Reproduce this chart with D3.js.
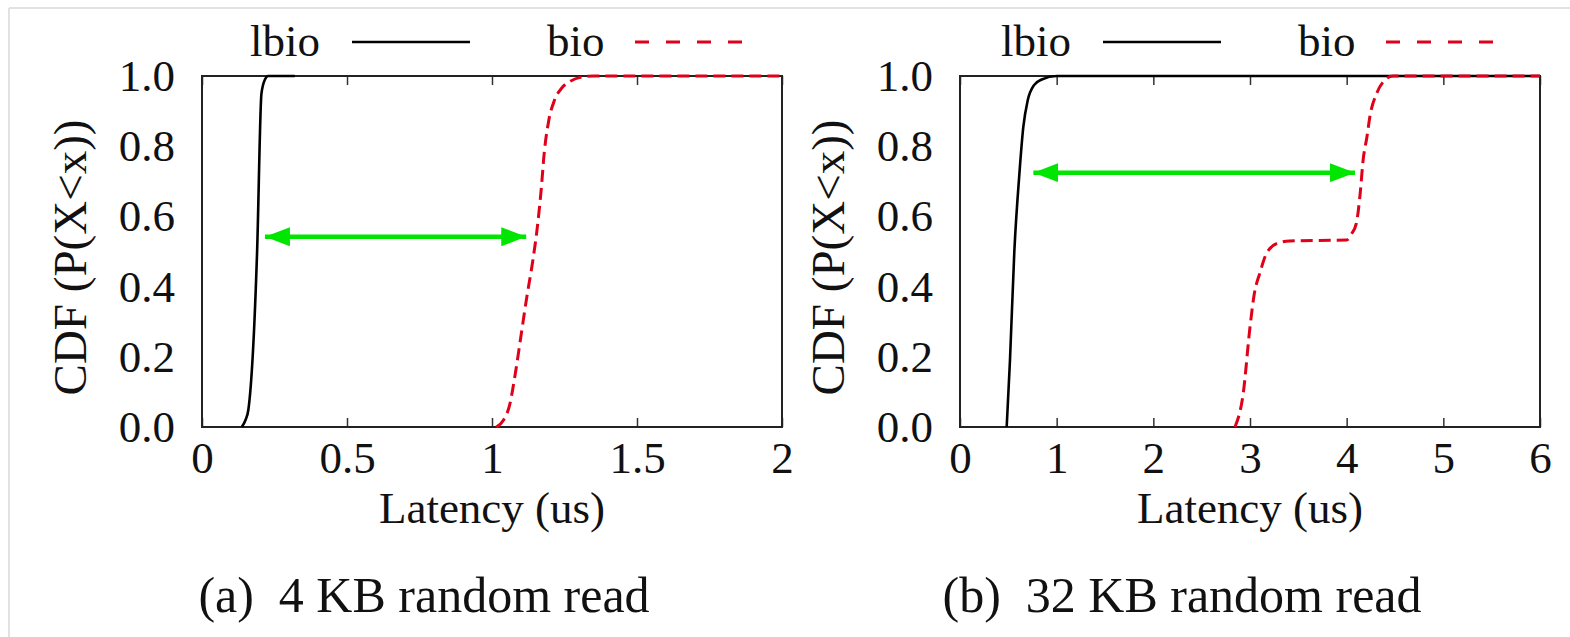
<!DOCTYPE html>
<html>
<head>
<meta charset="utf-8">
<script src="https://cdn.jsdelivr.net/npm/d3@7"></script>
<style>
  html, body { margin: 0; padding: 0; background: #fff; }
  svg { display: block; }
  text { font-family: "Liberation Serif", "Times New Roman", serif; fill: #111; white-space: pre; }
</style>
</head>
<body>
<svg id="fig" width="1570" height="637"></svg>
<script>
// ---- data: latency CDFs (x in microseconds, y = cumulative fraction) ----
const seriesNames = ["lbio", "bio"];

const lbio4K = [[0.137,0],[0.15,0.02],[0.16,0.05],[0.19,0.5],[0.205,0.95],[0.217,0.99],[0.228,1],[0.32,1]];
const bio4K  = [[1.015,0],[1.04,0.02],[1.06,0.06],[1.08,0.15],[1.10,0.26],[1.12,0.37],[1.14,0.47],
                [1.155,0.56],[1.17,0.68],[1.18,0.78],[1.195,0.87],[1.215,0.93],[1.24,0.965],
                [1.27,0.985],[1.31,0.997],[1.35,1],[2.0,1]];

const lbio32K = [[0.483,0],[0.517,0.19],[0.562,0.5],[0.614,0.72],[0.655,0.855],[0.70,0.93],
                 [0.766,0.974],[0.845,0.99],[1.0,1],[6.0,1]];
const bio32K  = [[2.845,0],[2.93,0.096],[3.0,0.285],[3.045,0.38],[3.10,0.437],[3.17,0.494],
                 [3.28,0.523],[3.41,0.53],[4.0,0.533],[4.05,0.55],[4.10,0.58],[4.14,0.666],
                 [4.17,0.76],[4.21,0.827],[4.24,0.884],[4.31,0.95],[4.38,0.984],[4.48,1.0],[6.0,1]];

// double-headed arrows marking the latency gap: [x from, x to, y]
const gap4K  = [0.217, 1.118, 0.542];
const gap32K = [0.759, 4.086, 0.7245];

const xTicks4K  = [0, 0.5, 1, 1.5, 2];
const xTicks32K = [0, 1, 2, 3, 4, 5, 6];
const yTicks    = [0, 0.2, 0.4, 0.6, 0.8, 1.0];

const captions = ["(a)  4 KB random read", "(b)  32 KB random read"];
const xTitle = "Latency (us)";
const yTitle = "CDF (P(X<x))";

// ---- layout ----
const panels = [
  { left: 202, right: 782, xMax: 2, xTicks: xTicks4K, lbio: lbio4K, bio: bio4K, gap: gap4K,
    caption: captions[0], legendX: 250 },
  { left: 960, right: 1540, xMax: 6, xTicks: xTicks32K, lbio: lbio32K, bio: bio32K, gap: gap32K,
    caption: captions[1], legendX: 1001 }
];
const plotTop = 76, plotBottom = 427;
const fs = 45;        // tick labels, titles, legend
const fsCap = 50;     // sub-captions

const svg = d3.select("#fig");

// faint page border
svg.append("line").attr("x1", 9).attr("x2", 1570).attr("y1", 8).attr("y2", 8)
  .attr("stroke", "#e2e2e2").attr("stroke-width", 2);
svg.append("line").attr("x1", 9).attr("x2", 9).attr("y1", 8).attr("y2", 637)
  .attr("stroke", "#e2e2e2").attr("stroke-width", 2);

const defs = svg.append("defs");
defs.append("marker").attr("id", "head")
  .attr("viewBox", "0 0 25 19").attr("refX", 25).attr("refY", 9.5)
  .attr("markerWidth", 25).attr("markerHeight", 19)
  .attr("markerUnits", "userSpaceOnUse").attr("orient", "auto-start-reverse")
  .append("path").attr("d", "M0,0 L25,9.5 L0,19 Z").attr("fill", "#00e600");

panels.forEach(p => {
  const x = d3.scaleLinear().domain([0, p.xMax]).range([p.left, p.right]);
  const y = d3.scaleLinear().domain([0, 1]).range([plotBottom, plotTop]);
  const g = svg.append("g");

  // bottom axis: labels + inward ticks
  const xa = g.append("g").attr("transform", `translate(0,${plotBottom})`)
    .call(d3.axisBottom(x).tickValues(p.xTicks).tickSize(-9).tickPadding(14)
      .tickFormat(d => d3.format("")(d)));
  xa.select(".domain").remove();
  xa.selectAll("line").attr("stroke", "#333").attr("stroke-width", 1.5);
  xa.selectAll("text").style("font-size", fs + "px").style("font-family", "Liberation Serif")
    .attr("fill", "#111").attr("dy", "0.71em");
  // mirrored top ticks
  const xt = g.append("g").attr("transform", `translate(0,${plotTop})`)
    .call(d3.axisTop(x).tickValues(p.xTicks).tickSize(-9).tickFormat(""));
  xt.select(".domain").remove();
  xt.selectAll("line").attr("stroke", "#333").attr("stroke-width", 1.5);

  // left axis labels
  const ya = g.append("g").attr("transform", `translate(${p.left},0)`)
    .call(d3.axisLeft(y).tickValues(yTicks).tickSize(0).tickPadding(27).tickFormat(d3.format(".1f")));
  ya.select(".domain").remove();
  ya.selectAll("text").style("font-size", fs + "px").style("font-family", "Liberation Serif")
    .attr("fill", "#111");

  // frame
  g.append("rect").attr("x", p.left).attr("y", plotTop)
    .attr("width", p.right - p.left).attr("height", plotBottom - plotTop)
    .attr("fill", "none").attr("stroke", "#222").attr("stroke-width", 2);

  const line = d3.line().x(d => x(d[0])).y(d => y(d[1])).curve(d3.curveMonotoneX);

  g.append("path").datum(p.lbio).attr("d", line)
    .attr("fill", "none").attr("stroke", "#000").attr("stroke-width", 2.6);
  g.append("path").datum(p.bio).attr("d", line)
    .attr("fill", "none").attr("stroke", "#e0001a").attr("stroke-width", 3)
    .attr("stroke-dasharray", "12,6");

  // gap arrow
  g.append("line")
    .attr("x1", x(p.gap[0])).attr("x2", x(p.gap[1]))
    .attr("y1", y(p.gap[2])).attr("y2", y(p.gap[2]))
    .attr("stroke", "#00e600").attr("stroke-width", 4.5)
    .attr("marker-start", "url(#head)").attr("marker-end", "url(#head)");

  // axis titles
  const cx = (p.left + p.right) / 2;
  g.append("text").attr("x", cx).attr("y", 523).attr("text-anchor", "middle")
    .style("font-size", fs + "px").text(xTitle);
  g.append("text")
    .attr("transform", `translate(${p.left - 116},${(plotTop + plotBottom) / 2 + 6}) rotate(-90)`)
    .attr("text-anchor", "middle").style("font-size", (fs + 2) + "px").text(yTitle);

  // caption
  g.append("text").attr("x", cx - 68).attr("y", 612).attr("text-anchor", "middle")
    .style("font-size", fsCap + "px").text(p.caption);

  // legend
  const lx = p.legendX;
  const leg = g.append("g");
  leg.append("text").attr("x", lx).attr("y", 56).style("font-size", fs + "px").text(seriesNames[0]);
  leg.append("line").attr("x1", lx + 102).attr("x2", lx + 220).attr("y1", 42).attr("y2", 42)
    .attr("stroke", "#000").attr("stroke-width", 2.6);
  leg.append("text").attr("x", lx + 297).attr("y", 56).style("font-size", fs + "px").text(seriesNames[1]);
  leg.append("line").attr("x1", lx + 385).attr("x2", lx + 492).attr("y1", 42).attr("y2", 42)
    .attr("stroke", "#e0001a").attr("stroke-width", 3).attr("stroke-dasharray", "14,17");
});
</script>
</body>
</html>
